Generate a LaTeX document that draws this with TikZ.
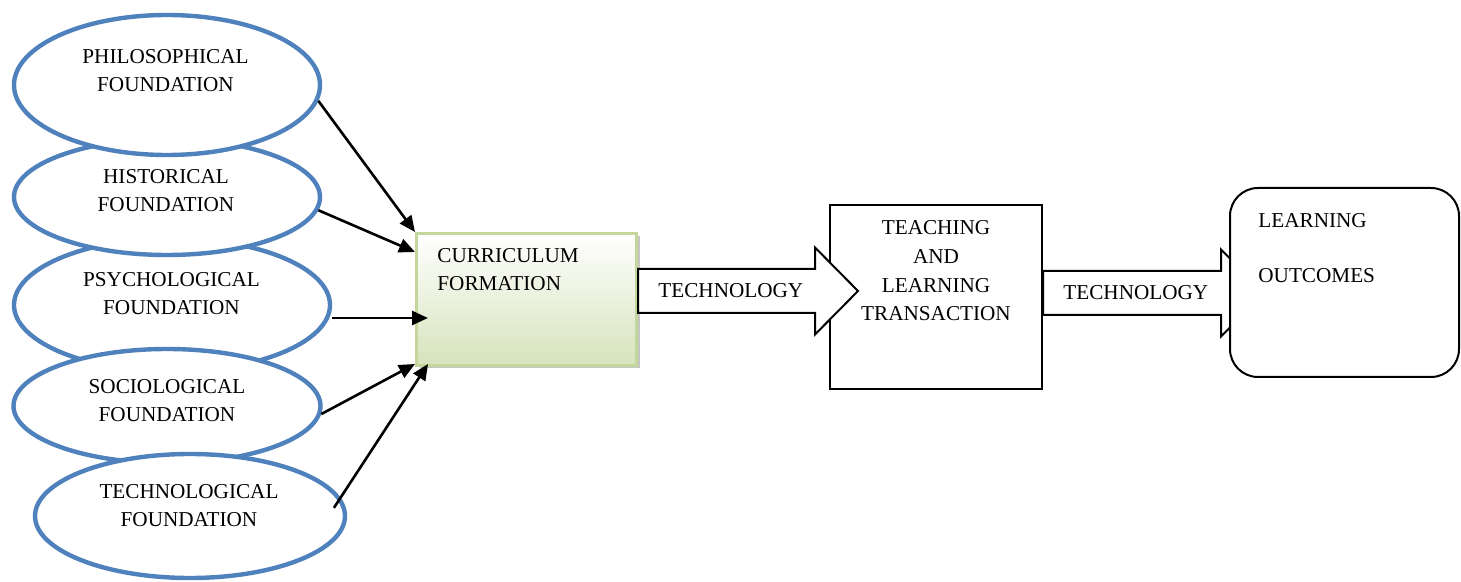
\documentclass[tikz,border=0pt]{standalone}
\usepackage{fontspec}
\setmainfont{Liberation Serif}
\usetikzlibrary{shapes.geometric,arrows.meta,shadows,calc}
\definecolor{foundblue}{RGB}{79,129,189}
\definecolor{curgreen}{RGB}{195,214,155}
\definecolor{curfill}{RGB}{214,227,188}
\tikzset{
  found/.style={ellipse, draw=foundblue, line width=2.2pt, fill=white, inner sep=0pt},
  feed/.style={-{Triangle[length=8pt,width=7pt]}, line width=1.3pt},
  plainbox/.style={draw, line width=1pt, inner sep=0pt},
  blockarrow/.style={draw, line width=1pt, fill=white,
    to path={let \p1=(\tikztostart), \p2=(\tikztotarget) in
      (\x1,\y1+11pt) -- (\x2-21.5pt,\y1+11pt) -- (\x2-21.5pt,\y1+21.75pt) -- (\x2,\y1)
      -- (\x2-21.5pt,\y1-21.75pt) -- (\x2-21.5pt,\y1-11pt) -- (\x1,\y1-11pt) -- cycle}}
}
\begin{document}
\begin{tikzpicture}[x=0.5pt,y=-0.5pt,font=\fontsize{10.6pt}{14pt}\selectfont]
\useasboundingbox (0,0) rectangle (1461,582);
% foundations, back to front
\foreach \n/\cx/\cy/\w/\h/\tx/\ty/\txt in {
    psych/172/305/158/66.5/171.5/294/{PSYCHOLOGICAL\\FOUNDATION},
    hist/167/197/153/58/166/191/{HISTORICAL\\FOUNDATION},
    phil/167/85/153/70/165.5/71/{PHILOSOPHICAL\\FOUNDATION},
    soc/167/406/153.5/57/167/401/{SOCIOLOGICAL\\FOUNDATION},
    tech/190/516/155/62/189/506/{TECHNOLOGICAL\\FOUNDATION}}{
    \node[found, minimum width=\w pt, minimum height=\h pt] (\n) at (\cx,\cy) {};
    \node[align=center, inner sep=0pt] (\n-txt) at (\tx,\ty) {\txt};
}
% curriculum
\node[draw=curgreen, line width=1.5pt, top color=white, bottom color=curfill,
    drop shadow={shadow xshift=1.5pt, shadow yshift=-1.5pt, fill=black!45},
    minimum width=110pt, minimum height=66pt, inner sep=0pt] (cur) at (526.5,299.5) {};
\node[anchor=north west, align=left, inner sep=0pt] (cur-txt)
    at ([xshift=11pt,yshift=-8pt]cur.north west) {CURRICULUM\\FORMATION};
\node[plainbox, minimum width=106pt, minimum height=92pt] (teach) at (936,297.5) {};
\node[anchor=north, align=center, inner sep=0pt, font=\fontsize{10.6pt}{14.3pt}\selectfont] (teach-txt)
    at ([yshift=-8pt]teach.north) {TEACHING\\AND\\LEARNING\\TRANSACTION};
% feeding arrows
\coordinate (ptip) at ([xshift=6.5pt,yshift=-9.25pt]cur.west);
\draw[feed] (phil.-6.3) -- (cur.north west);
\draw[feed] (hist.-5.6) -- ([yshift=-10pt]cur.north west);
\draw[feed] (psych.east |- ptip) -- (ptip);
\draw[feed] (soc.-3.7) -- ([yshift=1.5pt]cur.south west);
\draw[feed] ([xshift=-6pt]tech.3.6) -- ([xshift=6.5pt,yshift=1.5pt]cur.south west);
% technology arrows
\coordinate (tip1) at (858,291);
\coordinate (s1) at (cur.east |- tip1);
\draw[blockarrow] (s1) to (tip1);
\node[anchor=west, inner sep=0pt] (techno1) at ([xshift=10pt]s1) {TECHNOLOGY};
\coordinate (tip2) at (1264,293);
\coordinate (s2) at (teach.east |- tip2);
\draw[blockarrow] (s2) to (tip2);
\node[anchor=west, inner sep=0pt] (techno2) at ([xshift=10pt]s2) {TECHNOLOGY};
% outcomes
\node[plainbox, fill=white, rounded corners=14pt, minimum width=114.5pt, minimum height=94.5pt] (learn) at (1344.5,282.5) {};
\node[anchor=north west, align=left, inner sep=0pt] (learn-txt)
    at ([xshift=14.5pt,yshift=-13pt]learn.north west) {LEARNING\\[13.5pt]OUTCOMES};
\end{tikzpicture}
\end{document}
